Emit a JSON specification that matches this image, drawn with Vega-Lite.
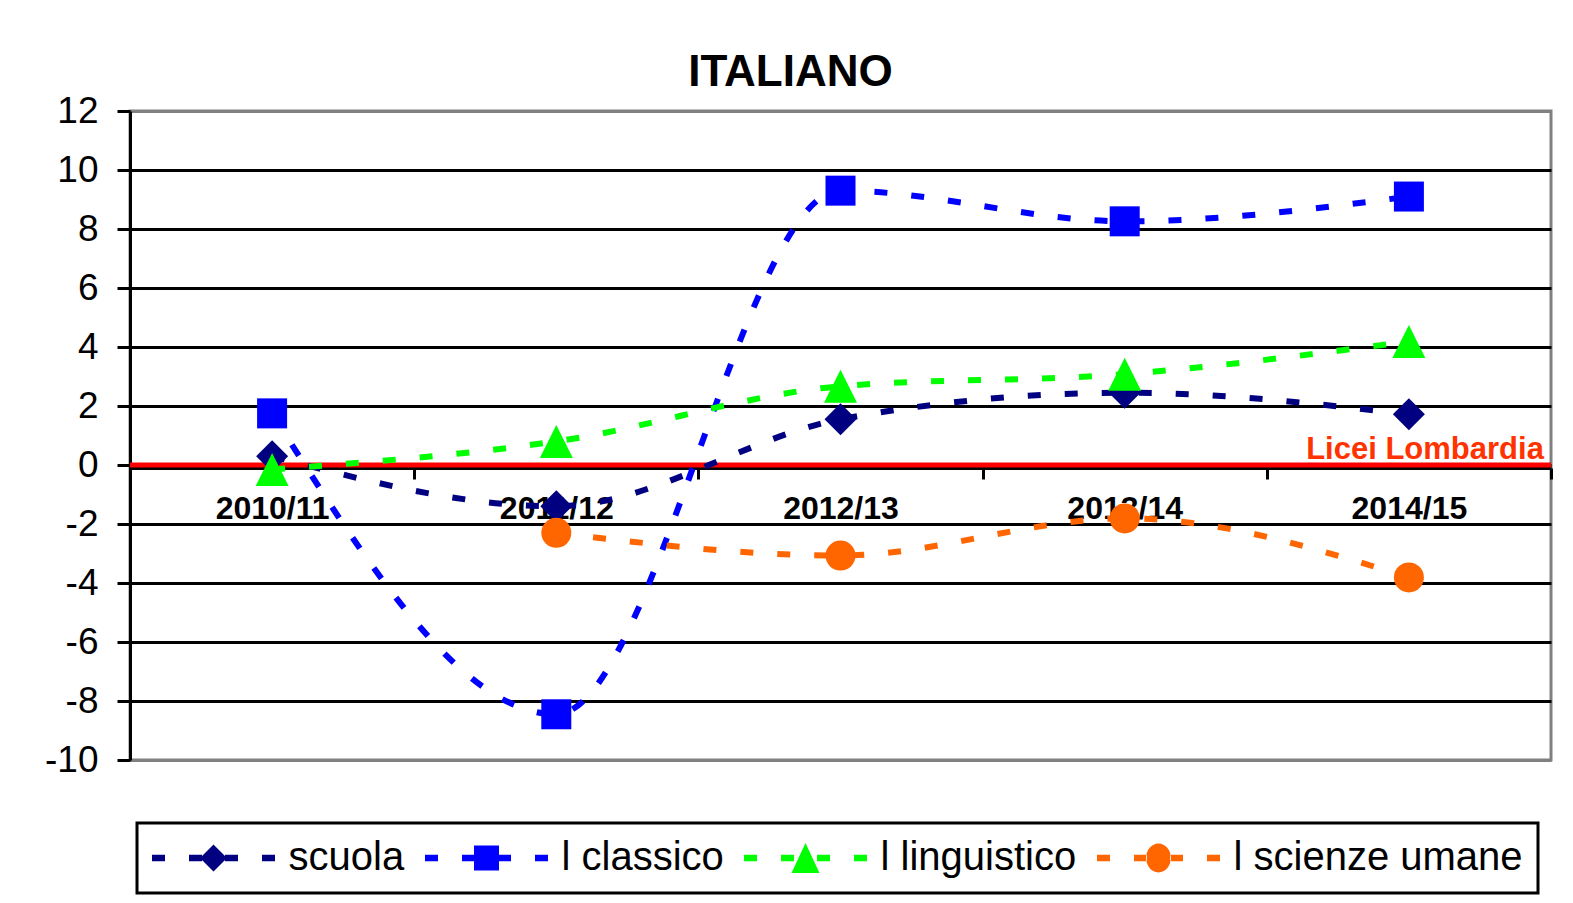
{
  "$schema": "https://vega.github.io/schema/vega-lite/v6.json",
  "autosize": {"type": "none"},
  "width": 1421,
  "height": 649,
  "padding": {"left": 130, "top": 111, "right": 22, "bottom": 143},
  "background": "white",
  "title": {"text": "ITALIANO", "fontSize": 44, "fontWeight": "bold", "font": "Liberation Sans", "color": "black", "anchor": "middle", "dx": -50, "offset": -3},
  "datasets": {
    "serie": [
      {"anno": "2010/11", "serie": "scuola", "valore": 0.3},
      {"anno": "2011/12", "serie": "scuola", "valore": -1.4},
      {"anno": "2012/13", "serie": "scuola", "valore": 1.55},
      {"anno": "2013/14", "serie": "scuola", "valore": 2.45},
      {"anno": "2014/15", "serie": "scuola", "valore": 1.72},
      {"anno": "2010/11", "serie": "l classico", "valore": 1.75},
      {"anno": "2011/12", "serie": "l classico", "valore": -8.45},
      {"anno": "2012/13", "serie": "l classico", "valore": 9.3},
      {"anno": "2013/14", "serie": "l classico", "valore": 8.26},
      {"anno": "2014/15", "serie": "l classico", "valore": 9.1},
      {"anno": "2010/11", "serie": "l linguistico", "valore": -0.15},
      {"anno": "2011/12", "serie": "l linguistico", "valore": 0.8},
      {"anno": "2012/13", "serie": "l linguistico", "valore": 2.67},
      {"anno": "2013/14", "serie": "l linguistico", "valore": 3.08},
      {"anno": "2014/15", "serie": "l linguistico", "valore": 4.19},
      {"anno": "2011/12", "serie": "l scienze umane", "valore": -2.3},
      {"anno": "2012/13", "serie": "l scienze umane", "valore": -3.07},
      {"anno": "2013/14", "serie": "l scienze umane", "valore": -1.81},
      {"anno": "2014/15", "serie": "l scienze umane", "valore": -3.81}
    ],
    "riferimento": [
      {"anno": "2014/15", "serie": "Licei Lombardia", "valore": 0}
    ]
  },
  "encoding": {
    "x": {
      "field": "anno", "type": "ordinal",
      "scale": {"type": "band", "paddingInner": 0, "paddingOuter": 0, "domain": ["2010/11", "2011/12", "2012/13", "2013/14", "2014/15"]},
      "axis": {"title": null, "orient": "bottom", "offset": -292, "labelFontSize": 32, "labelFontWeight": "bold", "labelFont": "Liberation Sans", "labelColor": "black", "labelPadding": 14, "tickSize": 11, "tickWidth": 3, "tickColor": "black", "tickBand": "extent", "domainColor": "black", "domainWidth": 3, "labelAngle": 0, "grid": false}
    },
    "y": {
      "field": "valore", "type": "quantitative",
      "scale": {"domain": [-10, 12], "nice": false, "zero": false},
      "axis": {"title": null, "values": [-10, -8, -6, -4, -2, 0, 2, 4, 6, 8, 10, 12], "labelExpr": "'' + datum.value", "labelFontSize": 37, "labelFont": "Liberation Sans", "labelColor": "black", "labelPadding": 19, "tickSize": 13, "tickWidth": 3, "tickColor": "black", "domainColor": "black", "domainWidth": 3, "grid": true, "gridColor": {"condition": {"test": "datum.value === 12 || datum.value === -10", "value": "#808080"}, "value": "black"}, "gridWidth": 3, "gridOpacity": 1}
    }
  },
  "layer": [
    {
      "data": {"name": "riferimento"},
      "mark": {"type": "rule", "color": "#FF0000", "strokeWidth": 5},
      "encoding": {"x": null}
    },
    {
      "data": {"name": "riferimento"},
      "mark": {"type": "text", "color": "#FF3300", "fontSize": 31, "fontWeight": "bold", "font": "Liberation Sans", "align": "right", "baseline": "alphabetic", "dx": 135, "dy": -6},
      "encoding": {"text": {"field": "serie"}}
    },
    {
      "data": {"name": "serie"},
      "transform": [{"filter": "datum.serie === 'scuola'"}],
      "mark": {"type": "line", "strokeWidth": 6, "strokeDash": [13, 24], "strokeCap": "butt", "interpolate": "monotone", "color": "#000080"}
    },
    {
      "data": {"name": "serie"},
      "transform": [{"filter": "datum.serie === 'l classico'"}],
      "mark": {"type": "line", "strokeWidth": 6, "strokeDash": [13, 24], "strokeCap": "butt", "interpolate": "monotone", "color": "#0000FF"}
    },
    {
      "data": {"name": "serie"},
      "transform": [{"filter": "datum.serie === 'l linguistico'"}],
      "mark": {"type": "line", "strokeWidth": 6, "strokeDash": [13, 24], "strokeCap": "butt", "interpolate": "monotone", "color": "#00FF00"}
    },
    {
      "data": {"name": "serie"},
      "transform": [{"filter": "datum.serie === 'l scienze umane'"}],
      "mark": {"type": "line", "strokeWidth": 6, "strokeDash": [13, 24], "strokeCap": "butt", "interpolate": "monotone", "color": "#FF6600"}
    },
    {
      "data": {"name": "serie"},
      "transform": [{"filter": "datum.serie === 'scuola'"}],
      "mark": {"type": "point", "filled": true, "opacity": 1, "shape": "diamond", "size": 1024, "color": "#000080"}
    },
    {
      "data": {"name": "serie"},
      "transform": [{"filter": "datum.serie === 'l classico'"}],
      "mark": {"type": "point", "filled": true, "opacity": 1, "shape": "square", "size": 900, "color": "#0000FF"}
    },
    {
      "data": {"name": "serie"},
      "transform": [{"filter": "datum.serie === 'l linguistico'"}],
      "mark": {"type": "point", "filled": true, "opacity": 1, "shape": "M0,-1L1,1L-1,1Z", "size": 1089, "color": "#00FF00"}
    },
    {
      "data": {"name": "serie"},
      "transform": [{"filter": "datum.serie === 'l scienze umane'"}],
      "mark": {"type": "point", "filled": true, "opacity": 1, "shape": "circle", "size": 900, "color": "#FF6600"}
    },
    {
      "data": {"name": "serie"},
      "mark": {"type": "point", "filled": true, "opacity": 0, "size": 10},
      "encoding": {
        "color": {
          "field": "serie", "type": "nominal", "legend": {"title": null},
          "scale": {"domain": ["scuola", "l classico", "l linguistico", "l scienze umane"], "range": ["#000080", "#0000FF", "#00FF00", "#FF6600"]}
        },
        "shape": {
          "field": "serie", "type": "nominal", "legend": {"title": null},
          "scale": {
            "domain": ["scuola", "l classico", "l linguistico", "l scienze umane"],
            "range": [
              "M-3.075,-0.1625H-2.425V0.1625H-3.075Z M-1.225,-0.1625H-0.575V0.1625H-1.225Z M0.575,-0.1625H1.225V0.1625H0.575Z M2.425,-0.1625H3.075V0.1625H2.425Z M0,-0.675L0.675,0L0,0.675L-0.675,0Z",
              "M-3.075,-0.1625H-2.425V0.1625H-3.075Z M-1.225,-0.1625H-0.575V0.1625H-1.225Z M0.575,-0.1625H1.225V0.1625H0.575Z M2.425,-0.1625H3.075V0.1625H2.425Z M-0.625,-0.625H0.625V0.625H-0.625Z",
              "M-3.075,-0.1625H-2.425V0.1625H-3.075Z M-1.225,-0.1625H-0.575V0.1625H-1.225Z M0.575,-0.1625H1.225V0.1625H0.575Z M2.425,-0.1625H3.075V0.1625H2.425Z M0,-0.75L0.7,0.75L-0.7,0.75Z",
              "M-3.075,-0.1625H-2.425V0.1625H-3.075Z M-1.225,-0.1625H-0.575V0.1625H-1.225Z M0.575,-0.1625H1.225V0.1625H0.575Z M2.425,-0.1625H3.075V0.1625H2.425Z M-0.62,0A0.62,0.72 0 1,0 0.62,0A0.62,0.72 0 1,0 -0.62,0Z"
            ]
          }
        }
      }
    }
  ],
  "config": {
    "font": "Liberation Sans",
    "view": {"stroke": "#808080", "strokeWidth": 3},
    "legend": {
      "orient": "none", "legendX": 7, "legendY": 712,
      "direction": "horizontal", "columns": 4,
      "strokeColor": "black", "strokeWidth": 3, "padding": 15,
      "labelFontSize": 40, "labelFont": "Liberation Sans", "labelColor": "black",
      "labelOffset": 55, "labelLimit": 500, "columnPadding": 20,
      "symbolSize": 1600, "symbolStrokeWidth": 0, "symbolOpacity": 1, "symbolOffset": 41.5
    }
  }
}
